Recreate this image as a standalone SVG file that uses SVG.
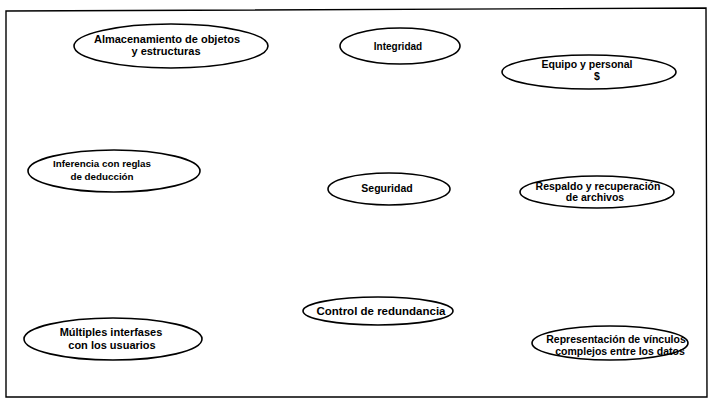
<svg xmlns="http://www.w3.org/2000/svg" width="712" height="401" viewBox="0 0 712 401">
<style>
.n ellipse{fill:#fff;stroke:#000;stroke-width:1.6}
.n text{font-family:"Liberation Sans",Arial,sans-serif;font-size:10.5px;font-weight:bold;fill:#000;text-anchor:middle}
.frame{fill:none;stroke:#000;stroke-width:1.4}
</style>
<rect width="712" height="401" fill="#fff"/>
<path class="frame" d="M6,11 L706,8 L707,397 L6,397 Z"/>
<g id="connectors"></g>
<g id="n1" class="n"><ellipse cx="171" cy="46" rx="97" ry="22"/><text x="167" y="43" style="font-size:11px">Almacenamiento de objetos</text><text x="166" y="55" style="font-size:11px">y estructuras</text></g>
<g id="n2" class="n"><ellipse cx="400" cy="46" rx="60" ry="18"/><text x="398" y="50" style="font-size:10px">Integridad</text></g>
<g id="n3" class="n"><ellipse cx="589" cy="72" rx="87" ry="17"/><text x="587" y="68">Equipo y personal</text><text x="597" y="80">$</text></g>
<g id="n4" class="n"><ellipse cx="114" cy="171" rx="86" ry="21"/><text x="102" y="167" style="font-size:9.8px">Inferencia con reglas</text><text x="102" y="180" style="font-size:9.8px">de deducción</text></g>
<g id="n5" class="n"><ellipse cx="389" cy="189" rx="61" ry="16"/><text x="387" y="192">Seguridad</text></g>
<g id="n6" class="n"><ellipse cx="597" cy="192" rx="77" ry="16"/><text x="598" y="190">Respaldo y recuperación</text><text x="595" y="201">de archivos</text></g>
<g id="n7" class="n"><ellipse cx="378" cy="311" rx="75" ry="14"/><text x="381" y="315" style="font-size:11.5px">Control de redundancia</text></g>
<g id="n8" class="n"><ellipse cx="113" cy="339" rx="89" ry="21"/><text x="111" y="336" style="font-size:11px">Múltiples interfases</text><text x="112" y="349" style="font-size:11px">con los usuarios</text></g>
<g id="n9" class="n"><ellipse cx="610" cy="343" rx="78" ry="17"/><text x="616" y="343">Representación de vínculos</text><text x="620" y="355">complejos entre los datos</text></g>
</svg>
